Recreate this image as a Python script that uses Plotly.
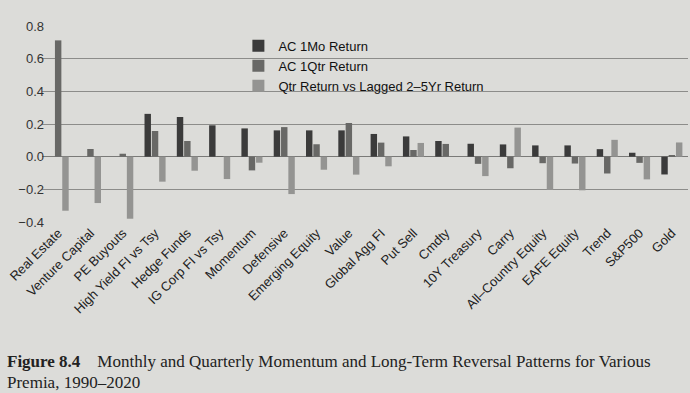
import plotly.graph_objects as go

categories = ["Real Estate", "Venture Capital", "PE Buyouts", "High Yield FI vs Tsy",
              "Hedge Funds", "IG Corp FI vs Tsy", "Momentum", "Defensive",
              "Emerging Equity", "Value", "Global Agg FI", "Put Sell", "Cmdty",
              "10Y Treasury", "Carry", "All\u2013Country Equity", "EAFE Equity",
              "Trend", "S&P500", "Gold"]

ac_1mo = [None, None, None, 0.262, 0.243, 0.192, 0.173, 0.161, 0.161, 0.161,
          0.139, 0.124, 0.096, 0.079, 0.075, 0.069, 0.069, 0.046, 0.024, -0.109]
ac_1qtr = [0.712, 0.047, 0.018, 0.157, 0.096, 0.004, -0.084, 0.181, 0.076, 0.206,
           0.086, 0.041, 0.078, -0.044, -0.071, -0.040, -0.042, -0.103, -0.038, 0.008]
lagged = [-0.331, -0.284, -0.380, -0.153, -0.086, -0.137, -0.037, -0.229, -0.080, -0.110,
          -0.059, 0.084, 0.0, -0.119, 0.178, -0.204, -0.206, 0.103, -0.139, 0.087]

series_names = ["AC 1Mo Return", "AC 1Qtr Return", "Qtr Return vs Lagged 2\u20135Yr Return"]
colors = ["#3b3b3b", "#686866", "#949492"]
y_ticks = [-0.4, -0.2, 0.0, 0.2, 0.4, 0.6, 0.8]
y_tick_text = ["\u22120.4", "\u22120.2", "0.0", "0.2", "0.4", "0.6", "0.8"]

bg = "#dcdcd9"
fig = go.Figure()
for name, vals, col in zip(series_names, [ac_1mo, ac_1qtr, lagged], colors):
    fig.add_trace(go.Bar(x=categories, y=vals, name=name, marker_color=col,
                         marker_line_width=0))

fig.update_layout(
    width=690, height=393,
    margin=dict(l=42, r=2, t=26, b=171),
    paper_bgcolor=bg, plot_bgcolor=bg,
    barmode="group", bargap=0.32, bargroupgap=0.12,
    font=dict(family="Liberation Sans, Arial, sans-serif", size=13, color="#222"),
    showlegend=True,
    legend=dict(x=0.304, y=0.975, xanchor="left", yanchor="top",
                bgcolor="rgba(0,0,0,0)", font=dict(size=13, color="#111"),
                itemwidth=30, tracegroupgap=0),
    xaxis=dict(tickangle=-45, showgrid=False, showline=False, ticks="",
               automargin=False, tickfont=dict(size=13, color="#222")),
    yaxis=dict(range=[-0.4, 0.8], tickvals=y_ticks, ticktext=y_tick_text,
               showgrid=True, gridcolor="#8c8c8a", gridwidth=1, automargin=False,
               zeroline=True, zerolinecolor="#7a7a78", zerolinewidth=1,
               ticklabelstandoff=-3,
               tickfont=dict(size=13, color="#333"), ticks="", showline=False),
)

fig.add_annotation(text="<b>Figure 8.4</b>    Monthly and Quarterly Momentum and Long-Term Reversal Patterns for Various",
                   xref="paper", yref="paper", x=-0.057, y=-0.71, xanchor="left", yanchor="middle",
                   showarrow=False, font=dict(family="Liberation Serif, serif", size=17, color="#222"))
fig.add_annotation(text="Premia, 1990\u20132020",
                   xref="paper", yref="paper", x=-0.057, y=-0.82, xanchor="left", yanchor="middle",
                   showarrow=False, font=dict(family="Liberation Serif, serif", size=17, color="#222"))

fig.write_html("out.html", config={"displayModeBar": False},
               post_script="document.body.style.margin='0';document.body.style.background='%s';" % bg)
